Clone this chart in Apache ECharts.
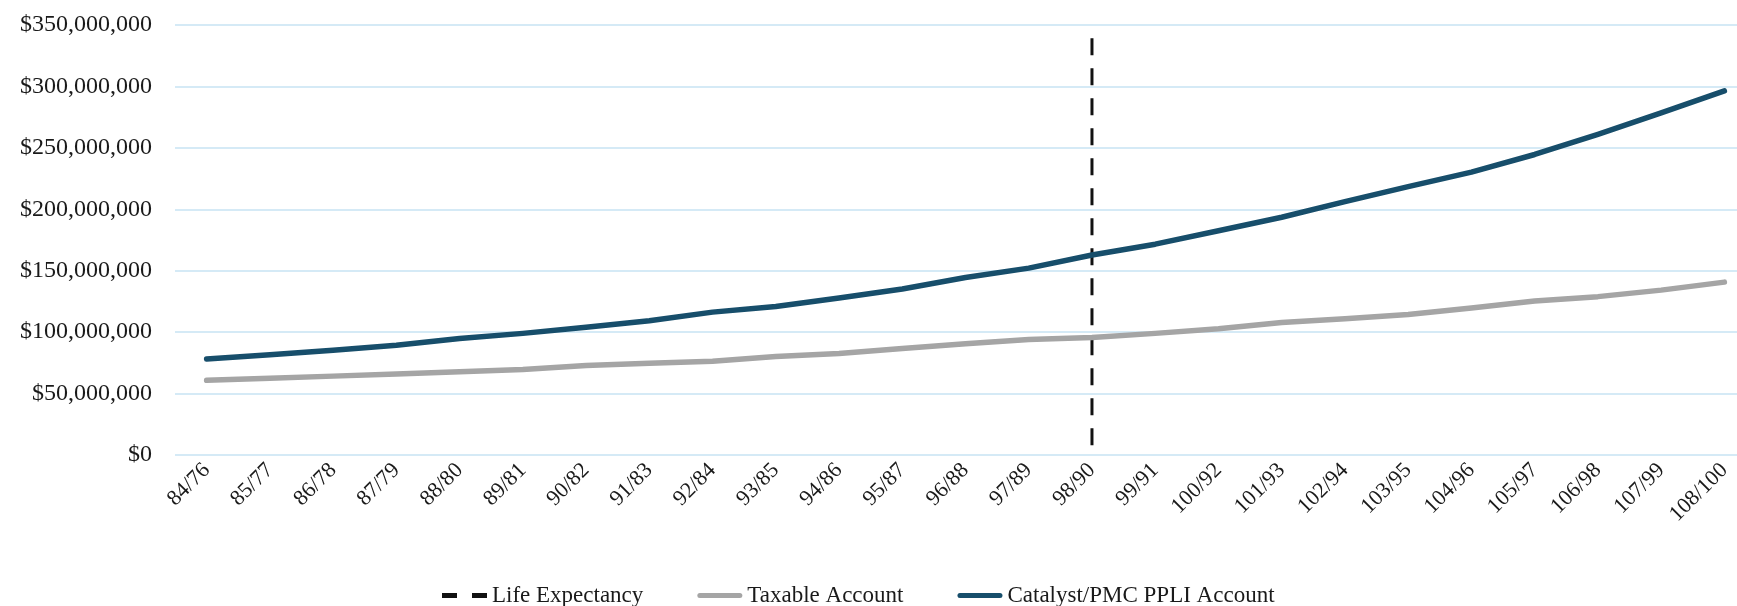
<!DOCTYPE html>
<html>
<head>
<meta charset="utf-8">
<title>PPLI vs Taxable</title>
<script src="https://cdn.jsdelivr.net/npm/echarts@6/dist/echarts.min.js"></script>
<style>
  html, body { margin: 0; padding: 0; background: #fff; overflow: hidden; }
  /* chart is a bit wider than the window: the last category slot runs off the right edge */
  #chart { width: 1756px; height: 606px; }
</style>
</head>
<body>
<div id="chart"></div>
<script>
  // ages (client / spouse)
  var categories = ['84/76','85/77','86/78','87/79','88/80','89/81','90/82','91/83','92/84','93/85',
    '94/86','95/87','96/88','97/89','98/90','99/91','100/92','101/93','102/94','103/95',
    '104/96','105/97','106/98','107/99','108/100']

  // values in $ millions
  var taxable = [60.8, 62.4, 64.2, 65.9, 67.8, 69.6, 72.9, 74.6, 76.4, 80.1,
    82.6, 86.6, 90.6, 94.1, 95.7, 99.0, 102.7, 107.9, 110.9, 114.4,
    119.7, 125.3, 128.9, 134.2, 140.7]
  var ppli = [78.1, 81.6, 85.2, 89.3, 94.8, 99.0, 104.0, 109.3, 116.3, 120.8,
    127.8, 135.1, 144.5, 152.1, 162.8, 171.6, 182.5, 193.5, 206.2, 218.4,
    230.3, 244.6, 261.0, 278.5, 296.4]

  // life expectancy marker: category + vertical extent ($ millions)
  var lifeExpectancyAt = '98/90'
  var lifeExpectancyRange = [8, 340]

  var yTicks = { min: 0, max: 350, interval: 50 }

  var M = 1000000
  var font = '"Liberation Serif", "DejaVu Serif", serif'

  // legend icons drawn as paths so no symbol dot shows up
  var dashIcon = 'path://M0,0H15V5H0Z M30,0H45V5H30Z'
  var barIcon = 'path://M2.5,0H42.5A2.5,2.5,0,0,1,42.5,5H2.5A2.5,2.5,0,0,1,2.5,0Z'

  var chart = echarts.init(document.getElementById('chart'))
  chart.setOption({
    animation: false,
    textStyle: { fontFamily: font },
    grid: {
      left: 175,
      right: 0,
      top: 25,
      bottom: 151
    },
    legend: {
      top: 579,
      left: 437,
      itemWidth: 45,
      itemHeight: 5,
      itemGap: 54,
      textStyle: { fontFamily: font, fontSize: 23, color: '#1a1a1a' },
      data: [
        { name: 'Life Expectancy', icon: dashIcon },
        { name: 'Taxable Account', icon: barIcon },
        { name: 'Catalyst/PMC PPLI Account', icon: barIcon }
      ]
    },
    xAxis: {
      type: 'category',
      data: categories,
      boundaryGap: true,
      axisLine: { show: false },
      axisTick: { show: false },
      axisLabel: {
        rotate: 45,
        interval: 0,
        margin: 12,
        fontFamily: font,
        fontSize: 22,
        color: '#1a1a1a'
      }
    },
    yAxis: {
      type: 'value',
      min: yTicks.min * M,
      max: yTicks.max * M,
      interval: yTicks.interval * M,
      axisLine: { show: false },
      axisTick: { show: false },
      splitLine: { lineStyle: { color: '#d5eaf6', width: 2 } },
      axisLabel: {
        margin: 23,
        fontFamily: font,
        fontSize: 24,
        color: '#1a1a1a',
        formatter: function (v) {
          return '$' + v.toLocaleString('en-US')
        }
      }
    },
    series: [
      {
        name: 'Life Expectancy',
        type: 'line',
        symbol: 'none',
        z: 1,
        lineStyle: { color: '#111', width: 3, type: [17, 13] },
        itemStyle: { color: '#111' },
        data: lifeExpectancyRange.map(function (v) { return [lifeExpectancyAt, v * M] })
      },
      {
        name: 'Taxable Account',
        type: 'line',
        symbol: 'none',
        z: 2,
        lineStyle: { color: '#a5a5a5', width: 5.5, cap: 'round', join: 'round' },
        itemStyle: { color: '#a5a5a5' },
        data: taxable.map(function (v) { return v * M })
      },
      {
        name: 'Catalyst/PMC PPLI Account',
        type: 'line',
        symbol: 'none',
        z: 3,
        lineStyle: { color: '#174e6b', width: 5.5, cap: 'round', join: 'round' },
        itemStyle: { color: '#174e6b' },
        data: ppli.map(function (v) { return v * M })
      }
    ]
  })
</script>
</body>
</html>
